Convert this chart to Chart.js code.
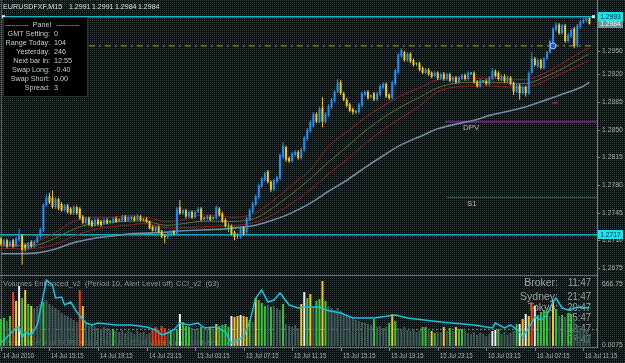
<!DOCTYPE html>
<html>
<head>
<meta charset="utf-8">
<script src="https://cdn.jsdelivr.net/npm/chart.js@4.4.1/dist/chart.umd.min.js"></script>
<style>
html,body{margin:0;padding:0;background:#0a0d0d;overflow:hidden;}
canvas{display:block;}
</style>
</head>
<body>
<canvas id="c" width="625" height="363"></canvas>
<script>
// ---------- DATA (prices in pips above BASE) ----------
const BASE = 1.2700;
const openPips = [12,4,10,3,10,2,10,16,4,0, 8,2,8,14,22,54,66,64,52,62, 56,48,54,50,44,52,50,40,32,38, 34,28,36,34,30,36,33,32,38,35, 35,40,35,38,39,36,40,36,37,34, 27,22,27,21,16,14,18,21,18,52, 44,48,40,46,39,46,50,37,37,40, 38,38,50,44,36,27,28,20,16,14, 26,20,36,46,55,64,78,86,97,84, 74,84,88,115,128,114,110,118,122,114, 124,138,148,155,170,160,178,160,168,178, 186,198,210,196,188,182,176,172,172,180, 194,198,192,196,188,194,203,208,194,190, 208,222,243,248,238,246,238,233,234,228, 222,226,222,218,222,215,221,214,220,212, 216,210,215,219,214,221,222,211,205,211, 212,208,215,224,222,213,218,211,216,209, 198,206,196,204,196,222,240,230,238,228, 240,248,260,276,283,272,282,262,268,278, 256,280,286,288,291];
const highPips = [14,12,12,10,12,14,25,18,6,8, 10,10,16,26,57,68,70,73,64,64, 58,56,56,52,54,54,52,42,40,40, 36,38,38,36,38,38,36,39,40,38, 42,42,41,40,41,43,42,38,39,35, 29,28,29,23,18,20,23,23,52,61, 50,50,48,48,48,52,52,40,42,42, 40,54,52,46,38,32,30,22,19,28, 28,40,50,59,68,82,90,97,99,86, 88,92,120,134,130,116,122,124,124,127, 142,152,162,172,172,179,191,172,182,190, 200,214,213,198,190,184,178,175,184,198, 200,200,194,198,198,207,210,210,196,212, 227,247,253,250,248,248,240,235,236,230, 228,228,224,224,224,222,223,222,222,218, 218,218,221,221,224,223,224,213,214,213, 214,218,228,226,224,220,220,218,218,211, 208,208,206,206,224,248,242,240,240,242, 250,264,280,286,285,284,284,272,278,280, 284,289,291,292,292];
const lowPips = [3,2,0,1,0,1,8,-21,-4,-2, 0,0,6,12,20,52,56,50,50,48, 46,46,44,42,42,42,36,30,30,28, 26,27,28,27,29,30,31,31,32,33, 34,33,34,36,34,35,34,34,32,24, 21,20,19,13,6,12,16,16,16,42, 42,38,38,37,38,44,34,35,35,34, 36,36,40,32,26,20,16,10,12,12, 16,18,34,44,53,62,76,84,82,71, 72,82,86,113,109,108,108,116,112,112, 122,136,146,153,158,158,153,158,166,176, 184,196,194,186,178,172,169,170,170,178, 192,188,190,186,186,192,201,190,188,188, 206,220,241,236,236,234,230,231,224,220, 220,218,215,216,213,213,212,212,210,210, 208,208,213,212,212,219,208,203,203,209, 206,206,213,216,212,211,209,209,206,194, 196,188,194,192,194,220,230,228,226,226, 238,246,258,274,270,270,260,260,266,253, 254,278,284,286,283];
const closePips = [5,10,2,8,2,12,18,-2,0,6, 2,8,14,24,55,64,58,52,62,50, 48,54,46,44,52,44,38,32,38,30, 28,36,30,29,36,31,33,37,33,35, 40,35,39,38,35,41,35,36,33,25, 22,27,20,15,14,19,21,18,50,44, 48,40,46,39,46,50,36,37,40,36, 38,52,42,34,28,27,18,14,16,26, 18,38,48,57,66,80,88,95,84,74, 86,90,118,130,112,110,120,122,114,125, 140,150,160,170,160,176,160,170,180,188, 198,210,196,188,180,174,172,172,182,196, 198,190,192,188,196,205,208,192,190,210, 225,245,250,238,246,236,232,233,226,222, 226,220,217,222,215,220,214,220,212,216, 210,216,219,214,222,221,210,205,212,211, 208,216,224,218,214,218,211,216,208,198, 206,196,204,196,222,240,232,238,228,240, 248,262,278,283,272,282,262,270,276,256, 282,287,289,291,284];

// moving averages read at sample bars
const maBars      = [0,6,12,18,24,30,36,42,48,54,60,66,72,78,84,90,96,102,108,114,120,126,132,138,144,150,156,162,168,174,180,186,192,194];
const maUpperPips = [5,5,9,20,34,39,39,41,39,34,36,42,41,39,45,61,80,99,129,147,165,180,193,203,213,215,215,215,214,214,223,236,250,253];
const maMidPips   = [3,3,4,13,24,31,33,34,34,29,31,34,34,34,38,52,69,88,109,128,148,165,179,191,203,209,210,210,209,209,218,229,242,246];
const maLowerPips = [0,-1,0,5,15,23,27,29,31,26,26,27,28,29,33,43,57,74,94,112,132,150,165,180,198,204,205,205,204,204,213,223,234,238];
const maSlowPips  = [-7,-7,-6,-1,7,12,15,18,19,20,22,23,24,26,29,36,45,57,72,86,102,117,131,141,151,157,162,169,174,180,188,196,205,210];

// volumes and their class (g=green, s=normal, y=yellow, r=red, w=white)
const volumes = [270,280,250,300,540,450,600,480,560,420, 400,380,400,420,440,460,420,400,380,360, 330,310,300,280,260,240,560,400,220,200, 210,190,180,170,190,180,160,170,150,140, 160,130,150,140,120,150,130,140,120,130, 170,190,160,200,180,150,160,140,170,320, 240,200,190,180,170,180,190,160,170,180, 160,220,200,210,220,190,300,290,300,310, 300,290,260,240,480,460,430,400,410,390, 400,380,360,420,220,200,190,210,180,420, 540,480,520,400,450,470,650,450,400,380, 360,380,350,320,300,290,270,260,250,240, 230,220,210,270,190,200,180,190,230,320, 250,180,170,190,160,150,170,140,160,190, 190,150,150,130,140,140,190,150,180,150, 190,170,170,150,130,120,140,110,130,120, 100,120,150,160,170,120,140,110,130,150, 220,220,270,320,300,440,400,310,340,360, 350,300,460,370,300,310,290,330,320,280, 200,180,170,160,120];
const volumeKinds = ("ggsgrywgyg"+"ysssgsssss"+"ssssssryss"+"sssssssgss"+"ssssssssss"+"rrrrrsgsgw"+"gggsssgssg"+"syggggwyyw"+"yygsygggsg"+"sssgsssssy"+"wgysggygss"+"ssssssssss"+"sssgssssgy"+"gssssssssg"+"gsygssysgs"+"yggsssssss"+"sswwgsssss"+"gwywyrwggg"+"gsygsgsggs"+"sssss").split('');

// CCI read at sample bars
const cciBars   = [0,5,6,7,8,10,12,14,15,17,18,20,21,23,25,28,30,32,38,43,48,51,53,55,57,59,62,65,67,71,74,76,78,80,82,84,86,88,90,92,95,98,100,105,107,112,116,123,130,134,145,156,160,162,163,166,168,171,172,174,176,178,180,182,183,185,187,189,191,194];
const cciValues = [-70,5,10,-45,-15,-30,20,170,245,220,155,160,120,135,85,30,20,30,20,20,10,-5,-30,-20,-5,30,20,30,5,10,-15,-70,-55,-40,35,155,195,135,145,180,120,105,110,110,95,80,55,55,70,55,35,20,10,5,30,5,20,-15,-40,5,60,45,70,135,155,105,95,105,110,105];

// horizontal levels
const levelNames  = ['cyanTop','cyanLow','dashHigh','DPV','S1','mark'];
const levelPrices = [1.2993, 1.2717, 1.2956, 1.2860, 1.2764, 1.2884];
const levelFrom   = [0.7, -0.3, 29, 146.4, 147, 181.6];
const levelTo     = [195.2, 196.5, 195, 196.5, 196.5, 183.6];

const priceTickLabels = ['1.2950','1.2920','1.2885','1.2850','1.2815','1.2780','1.2745','1.2710','1.2675'];
const timeTickBars   = [0,16,32,48,64,80,96,112,128,144,160,176,192];
const timeTickLabels = ['14 Jul 2010','14 Jul 15:15','14 Jul 19:15','14 Jul 23:15','15 Jul 03:15','15 Jul 07:15','15 Jul 11:15','15 Jul 15:15','15 Jul 19:15','15 Jul 23:15','16 Jul 03:15','16 Jul 07:15','16 Jul 11:15'];
const titleParts  = ['EURUSDFXF,M15','1.2991','1.2991','1.2984','1.2984'];
const panelLabels = ['GMT Setting:','Range Today:','Yesterday:','Next bar in:','Swap Long:','Swap Short:','Spread:'];
const panelValues = ['0','104','246','12:55','-0.40','0.00','3'];
const clockNames  = ['Broker:','Sydney:','Tokyo:','','',''];
const clockTimes  = ['11:47','21:47','20:47','15:47','12:47','07:47'];
const bidPrice = 1.2984;
const cMarkBar = 182, cMarkPrice = 1.2956;

// ---------- BUILD ----------
const toPrice = p => +(BASE + p / 10000).toFixed(5);
const BULL = '#1e8ff8', BEAR = '#f0c828', DOJI = '#7cc83c';
const kindColor = {g:'#38c438', s:'#3f5b5b', y:'#f0c828', r:'#f23a10', w:'#f2f2f2'};
const idx = openPips.map((_, i) => i);
const cColor = i => closePips[i] > openPips[i] ? BULL : (closePips[i] < openPips[i] ? BEAR : DOJI);

const datasets = [];
const lineStyles = {
  cyanTop:{c:'#16b8c8',w:1.5,d:[]}, cyanLow:{c:'#16b0c0',w:1.5,d:[]},
  dashHigh:{c:'#a8a000',w:1,d:[6,4,2,4]}, DPV:{c:'#7a1a7a',w:2,d:[]},
  S1:{c:'#1d5a22',w:1.5,d:[]}, mark:{c:'#a02020',w:2,d:[]}
};
levelNames.forEach((n, k) => {
  const st = lineStyles[n];
  datasets.push({type:'line', order:7, yAxisID:'y', data:[{x:levelFrom[k], y:levelPrices[k]},{x:levelTo[k], y:levelPrices[k]}],
    borderColor:st.c, borderWidth:st.w, borderDash:st.d, pointRadius:0, fill:false});
});
const maDefs = [[maSlowPips,'#6b8ea4',1.6],[maLowerPips,'#a01c1c',1],[maMidPips,'#6e6c18',1],[maUpperPips,'#a01c1c',1]];
maDefs.forEach(([arr,col,w]) => datasets.push({type:'line', order:6, yAxisID:'y',
  data: maBars.map((b,k)=>({x:b, y:toPrice(arr[k])})), borderColor:col, borderWidth:w, pointRadius:0, tension:0.35, fill:false}));
datasets.push({type:'bar', order:5, yAxisID:'yv', grouped:false, barThickness:2, inflateAmount:0,
  data: idx.map(i=>({x:i, y:volumes[i]})), backgroundColor: idx.map(i=>kindColor[volumeKinds[i]])});
datasets.push({type:'line', order:4, yAxisID:'yc', data: cciBars.map((b,k)=>({x:b, y:cciValues[k]})),
  borderColor:'#12c4e6', borderWidth:1.5, pointRadius:0, tension:0, fill:false});
datasets.push({type:'bar', order:1, yAxisID:'y', grouped:false, barThickness:1, inflateAmount:0,
  data: idx.map(i=>({x:i, y:[toPrice(lowPips[i]), toPrice(highPips[i])]})), backgroundColor: idx.map(cColor)});
datasets.push({type:'bar', order:0, yAxisID:'y', grouped:false, barThickness:2, inflateAmount:0, minBarLength:1,
  data: idx.map(i=>({x:i, y:[toPrice(Math.min(openPips[i],closePips[i])), toPrice(Math.max(openPips[i],closePips[i]))]})),
  backgroundColor: idx.map(cColor)});

// ---------- DRAW HELPERS ----------
let bgPat = null;
function pattern(ctx){
  if (bgPat) return bgPat;
  const pc = document.createElement('canvas'); pc.width = 2; pc.height = 2;
  const p = pc.getContext('2d');
  p.fillStyle = '#070a0a'; p.fillRect(0,0,2,2);
  p.fillStyle = '#374141'; p.fillRect(0,0,1,1);
  p.fillStyle = '#141a1a'; p.fillRect(1,1,1,1);
  bgPat = ctx.createPattern(pc, 'repeat'); return bgPat;
}
function txt(ctx, s, x, y, o = {}) {
  ctx.save();
  ctx.font = `${o.size || 8}px "Liberation Sans", Arial, sans-serif`;
  ctx.fillStyle = o.color || '#a8b0b0';
  ctx.textBaseline = 'middle'; ctx.textAlign = o.align || 'left';
  ctx.translate(x, y); ctx.scale(o.sx || 1, 1); ctx.fillText(s, 0, 0);
  ctx.restore();
}
function hline(ctx, x1, x2, y, col){ ctx.beginPath(); ctx.moveTo(x1, y); ctx.lineTo(x2, y); ctx.strokeStyle = col; ctx.lineWidth = 1; ctx.stroke(); }
function vline(ctx, x, y1, y2, col){ ctx.beginPath(); ctx.moveTo(x, y1); ctx.lineTo(x, y2); ctx.strokeStyle = col; ctx.lineWidth = 1; ctx.stroke(); }

const mt4 = {
  id: 'mt4',
  beforeDraw(chart){
    const ctx = chart.ctx; ctx.save(); ctx.fillStyle = pattern(ctx); ctx.fillRect(0,0,chart.width,chart.height); ctx.restore();
  },
  beforeDatasetsDraw(chart){
    const ctx = chart.ctx, a = chart.chartArea;
    vline(ctx, 1.5, 0, 348, '#4a5a5a');
    hline(ctx, 0, a.right, 275.5, '#5c7070');
    hline(ctx, 0, a.right, 347.5, '#5c7070');
    txt(ctx, 'MetaTrader 4 at FOREX.com, \u00a9 2001-2010 MetaQuotes Software Corp.', 4, 343, {size:8, color:'#5f6b6b', sx:0.92});
    txt(ctx, 'Volumes Enhanced_v2  (Period 10, Alert Level off)', 3, 283.5, {size:8, color:'#8a9494', sx:0.95});
    txt(ctx, 'CCI_v2  (63)', 176, 283.5, {size:8, color:'#8a9494', sx:0.95});
    const cy = [283.5, 297, 308, 318.5, 329, 340];
    cy.forEach((y,k) => {
      if (clockNames[k]) txt(ctx, clockNames[k], 558, y, {size:10.5, color:'#98a2a2', align:'right'});
      txt(ctx, clockTimes[k], 591, y, {size:10.5, color:'#98a2a2', align:'right', sx:0.9});
    });
    ctx.save(); ctx.setLineDash([2,2]);
    const yz = chart.scales.yc.getPixelForValue(0);
    hline(ctx, 0, a.right, Math.round(yz)+0.5, '#6a7272');
    ctx.restore();
  },
  afterDatasetsDraw(chart){
    const ctx = chart.ctx, ys = chart.scales.y, xs = chart.scales.x;
    vline(ctx, 597.5, 0, 348, '#6c8484');
    priceTickLabels.forEach(l => {
      const y = ys.getPixelForValue(parseFloat(l));
      hline(ctx, 597, 600, Math.round(y)+0.5, '#6c8484');
      txt(ctx, l, 602, y, {size:7.5, color:'#a4aeae', sx:0.9});
    });
    txt(ctx, '666.75', 602, 284, {size:7.5, color:'#a4aeae', sx:0.9});
    txt(ctx, '0.0075', 602, 345, {size:7.5, color:'#a4aeae', sx:0.9});
    const box = (price, fill, tcol) => {
      const y = ys.getPixelForValue(price);
      ctx.fillStyle = fill; ctx.fillRect(598, Math.round(y - 4.5), 25, 9);
      txt(ctx, price.toFixed(4), 610.5, y, {size:7.5, color:tcol, align:'center', sx:0.9});
    };
    box(bidPrice, '#6e9494', '#e8f4f4');
    box(levelPrices[0], '#18e4ee', '#003030');
    box(levelPrices[1], '#18e4ee', '#003030');
    const yt = ys.getPixelForValue(levelPrices[0]);
    ctx.fillStyle = '#bff8ff';
    ctx.fillRect(2, yt - 1.5, 3, 3); ctx.fillRect(592, yt - 1.5, 3, 3);
    const mx = xs.getPixelForValue(cMarkBar), my = ys.getPixelForValue(cMarkPrice);
    ctx.beginPath(); ctx.arc(mx, my, 3, 0, Math.PI*2); ctx.fillStyle = '#2050f0'; ctx.fill();
    ctx.strokeStyle = '#b8d0ff'; ctx.lineWidth = 1; ctx.stroke();
    txt(ctx, 'DPV', 463, ys.getPixelForValue(levelPrices[3]) + 6, {size:8, color:'#b0b4b4'});
    txt(ctx, 'S1', 467, ys.getPixelForValue(levelPrices[4]) + 6, {size:8, color:'#b0b4b4'});
    timeTickBars.forEach((b,k) => {
      const x = Math.round(xs.getPixelForValue(b)) + 0.5;
      vline(ctx, x, 348, 351, '#6c8484');
      txt(ctx, timeTickLabels[k], x + 1.5, 355.5, {size:7.5, color:'#a4aeae', sx:0.8});
    });
    const tx = [3, 69, 92, 115, 138];
    titleParts.forEach((s,k) => txt(ctx, s, tx[k], 7, {size:8, color:'#d8e0e0', sx: k ? 0.88 : 0.9}));
    ctx.fillStyle = '#000000'; ctx.fillRect(3, 17, 85, 80);
    ctx.strokeStyle = '#2a3434'; ctx.lineWidth = 1; ctx.strokeRect(3.5, 17.5, 84, 79);
    const pc = '#c4d0d0';
    txt(ctx, '-----------', 5, 25, {size:8, color:pc, sx:0.8});
    txt(ctx, 'Panel', 42, 25, {size:8, color:pc, align:'center', sx:0.9});
    txt(ctx, '-----------', 56, 25, {size:8, color:pc, sx:0.8});
    panelLabels.forEach((l,k) => {
      const y = 34 + k * 9;
      txt(ctx, l, 50, y, {size:8, color:pc, align:'right', sx:0.9});
      txt(ctx, panelValues[k], 54, y, {size:8, color:pc, sx:0.9});
    });
  }
};

new Chart(document.getElementById('c'), {
  type: 'bar',
  data: { datasets },
  options: {
    responsive: false, animation: false, devicePixelRatio: 1, events: [],
    layout: { padding: { left: 0, right: 28, top: 0, bottom: 16 } },
    scales: {
      x:  { type:'linear', min:-0.3, max:196.5, offset:false, display:false },
      y:  { type:'linear', position:'right', min:1.25749, max:1.30141, beginAtZero:false, display:false },
      yv: { type:'linear', position:'right', min:-10, max:3460, beginAtZero:false, display:false },
      yc: { type:'linear', position:'right', min:-90, max:1645, beginAtZero:false, display:false }
    },
    plugins: { legend: { display:false }, tooltip: { enabled:false } }
  },
  plugins: [mt4]
});
</script>
</body>
</html>
